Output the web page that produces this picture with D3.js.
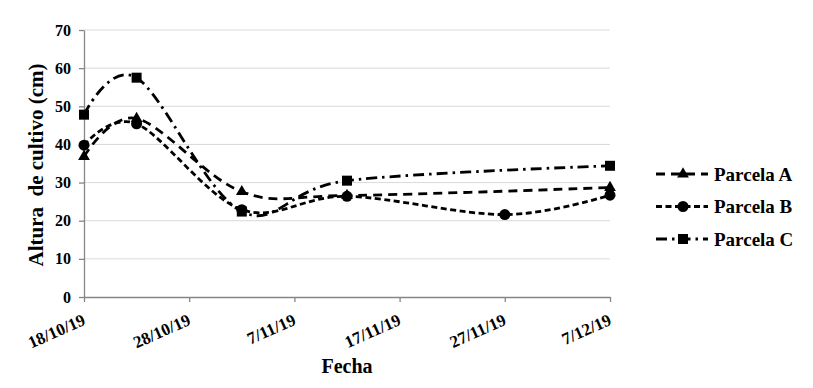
<!DOCTYPE html>
<html>
<head>
<meta charset="utf-8">
<script src="https://cdn.jsdelivr.net/npm/d3@7"></script>
<style>
  body { margin: 0; background: #fff; }
  svg text { font-family: "Liberation Serif", "Times New Roman", serif !important; font-weight: bold; fill: #000; }
  .grid line { stroke: #d9d9d9; stroke-width: 1; }
  .axis path, .axis line { stroke: #868686; stroke-width: 1.3; }
  .line { fill: none; stroke: #000; stroke-width: 2.8; }
</style>
</head>
<body>
<div id="chart"></div>
<script>
// fechas de medición
const fechas = ["18/10/19", "23/10/19", "2/11/19", "12/11/19", "27/11/19", "7/12/19"];
const parcelaA = [36.8, 46.8, 27.6, 26.6, null, 28.7];
const parcelaB = [39.8, 45.4, 22.9, 26.4, 21.6, 26.7];
const parcelaC = [47.8, 57.5, 22.4, 30.5, null, 34.4];
const tickFechas = ["18/10/19", "28/10/19", "7/11/19", "17/11/19", "27/11/19", "7/12/19"];
const yTicks = [0, 10, 20, 30, 40, 50, 60, 70];

const parse = d3.timeParse("%d/%m/%y");
const fmt = d3.timeFormat("%-d/%m/%y");

const W = 813, H = 388;
const margin = {top: 30, right: 203, bottom: 91, left: 84};
const width = W - margin.left - margin.right;
const height = H - margin.top - margin.bottom;

const svgRoot = d3.select("#chart").append("svg").attr("width", W).attr("height", H);
const svg = svgRoot.append("g").attr("transform", `translate(${margin.left},${margin.top})`);

const x = d3.scaleTime().domain([parse(tickFechas[0]), parse(tickFechas[tickFechas.length - 1])]).range([0, width]);
const y = d3.scaleLinear().domain([0, 70]).range([height, 0]);

// grid
svg.append("g").attr("class", "grid")
  .selectAll("line").data(yTicks.slice(1)).enter().append("line")
  .attr("x1", 0).attr("x2", width).attr("y1", d => y(d)).attr("y2", d => y(d));

// ejes
const yAxis = svg.append("g").attr("class", "axis")
  .call(d3.axisLeft(y).tickValues(yTicks).tickSize(5).tickSizeOuter(0).tickPadding(8));
yAxis.attr("font-family", null).attr("font-size", null);
yAxis.selectAll("text").style("font-size", "16px");

const xAxis = svg.append("g").attr("class", "axis").attr("transform", `translate(0,${height})`)
  .call(d3.axisBottom(x).tickValues(tickFechas.map(parse)).tickFormat(fmt).tickSize(5).tickSizeOuter(0));
xAxis.attr("font-family", null).attr("font-size", null);
xAxis.selectAll("text")
  .style("font-size", "17px")
  .attr("text-anchor", "end")
  .attr("dy", null).attr("y", 0)
  .attr("transform", "translate(2,27) rotate(-24)");

// títulos
svgRoot.append("text")
  .attr("transform", "translate(43,165) rotate(-90)")
  .attr("text-anchor", "middle").style("font-size", "21px").style("white-space", "pre")
  .text("Altura  de cultivo (cm)");
svgRoot.append("text")
  .attr("x", 347).attr("y", 373).attr("text-anchor", "middle").style("font-size", "20px")
  .text("Fecha");

// series
const series = [
  {name: "Parcela A", values: parcelaA, dash: "9,6", marker: "triangle"},
  {name: "Parcela B", values: parcelaB, dash: "6,3.5", marker: "circle"},
  {name: "Parcela C", values: parcelaC, dash: "11,5,2.5,5", marker: "square"}
];

const line = d3.line().x(d => x(d.date)).y(d => y(d.v)).curve(d3.curveCardinal.tension(0));
const symbols = {
  triangle: d3.symbol().type(d3.symbolTriangle).size(60),
  circle: d3.symbol().type(d3.symbolCircle).size(95),
  square: d3.symbol().type(d3.symbolSquare).size(100)
};

series.forEach(s => {
  const pts = fechas.map((f, i) => ({date: parse(f), v: s.values[i]})).filter(d => d.v !== null);
  svg.append("path").datum(pts).attr("class", "line").attr("stroke-dasharray", s.dash).attr("d", line);
  s.pts = pts;
});
series.forEach(s => {
  svg.selectAll(null).data(s.pts).enter().append("path")
    .attr("d", symbols[s.marker]).attr("fill", "#000")
    .attr("transform", d => `translate(${x(d.date)},${y(d.v)})`);
});

// leyenda
const legend = svgRoot.append("g").attr("transform", "translate(656,174)");
series.forEach((s, i) => {
  const g = legend.append("g").attr("transform", `translate(0,${i * 32.5})`);
  g.append("line").attr("x1", 0).attr("x2", 52).attr("y1", 0).attr("y2", 0)
    .attr("stroke", "#000").attr("stroke-width", 2.8).attr("stroke-dasharray", s.dash);
  g.append("path").attr("d", symbols[s.marker]).attr("transform", "translate(27,0)").attr("fill", "#000");
  g.append("text").attr("x", 58).attr("y", 0).attr("dy", "0.35em").style("font-size", "19px").text(s.name);
});
</script>
</body>
</html>
